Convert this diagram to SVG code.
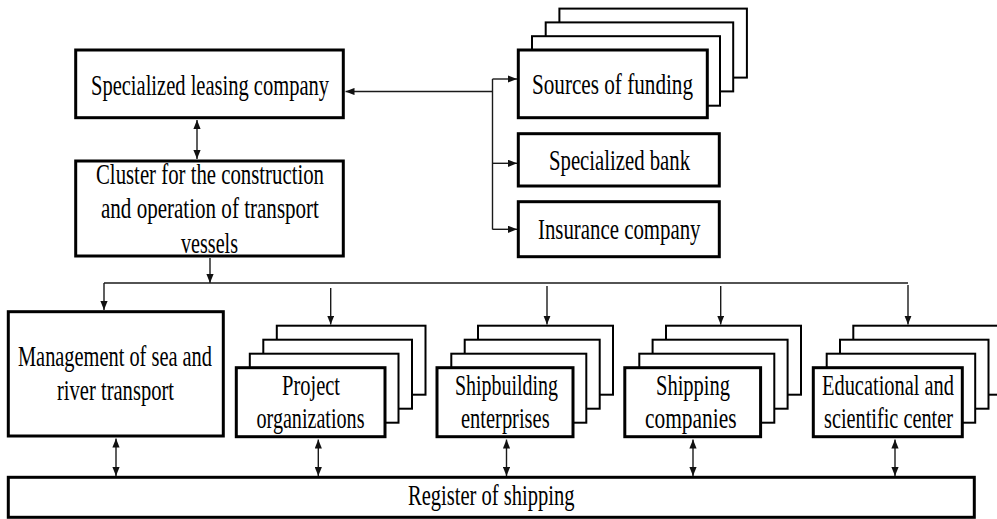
<svg xmlns="http://www.w3.org/2000/svg" width="997" height="519" viewBox="0 0 997 519">
<defs>
<style>
.box{fill:#fff;stroke:#000;stroke-width:3}
.layer{fill:#fff;stroke:#000;stroke-width:2}
.t{font-family:"Liberation Serif","Times New Roman",serif;font-size:29px;fill:#000}
.c{fill:none;stroke:#1a1a1a;stroke-width:1.4}
</style>
<marker id="ah" viewBox="0 0 10 8" refX="10" refY="4" markerWidth="9" markerHeight="7.5" markerUnits="userSpaceOnUse" orient="auto-start-reverse">
<path d="M0,0 L10,4 L0,8 z" fill="#111"/>
</marker>
</defs>
<rect width="997" height="519" fill="#fff"/>

<g id="connectors">
<line class="c" x1="197" y1="120" x2="197" y2="159" marker-start="url(#ah)" marker-end="url(#ah)"/>
<line class="c" x1="210" y1="258" x2="210" y2="283" marker-end="url(#ah)"/>
<line class="c" x1="104" y1="283" x2="908" y2="283"/>
<line class="c" x1="104" y1="283" x2="104" y2="310" marker-end="url(#ah)"/>
<line class="c" x1="330.7" y1="288" x2="330.7" y2="324.5" marker-end="url(#ah)"/>
<line class="c" x1="547" y1="286" x2="547" y2="324.5" marker-end="url(#ah)"/>
<line class="c" x1="720.7" y1="286" x2="720.7" y2="324.5" marker-end="url(#ah)"/>
<line class="c" x1="908" y1="285" x2="908" y2="324.5" marker-end="url(#ah)"/>
<line class="c" x1="492.5" y1="91.5" x2="345.5" y2="91.5" marker-end="url(#ah)"/>
<line class="c" x1="492.5" y1="79" x2="492.5" y2="229.5"/>
<line class="c" x1="492.5" y1="79" x2="517" y2="79" marker-end="url(#ah)"/>
<line class="c" x1="492.5" y1="163.3" x2="517" y2="163.3" marker-end="url(#ah)"/>
<line class="c" x1="492.5" y1="229.3" x2="517" y2="229.3" marker-end="url(#ah)"/>
<line class="c" x1="116" y1="438.5" x2="116" y2="476" marker-start="url(#ah)" marker-end="url(#ah)"/>
<line class="c" x1="318.3" y1="439.5" x2="318.3" y2="476" marker-start="url(#ah)" marker-end="url(#ah)"/>
<line class="c" x1="506.5" y1="439.5" x2="506.5" y2="476" marker-start="url(#ah)" marker-end="url(#ah)"/>
<line class="c" x1="693" y1="439.5" x2="693" y2="476" marker-start="url(#ah)" marker-end="url(#ah)"/>
<line class="c" x1="895" y1="439.5" x2="895" y2="476" marker-start="url(#ah)" marker-end="url(#ah)"/>
</g>

<g id="leasing">
<rect class="box" x="75.7" y="50" width="267.6" height="67.7"/>
<text class="t" transform="translate(91,94.5) scale(0.71,1)" textLength="335.2" lengthAdjust="spacingAndGlyphs">Specialized leasing company</text>
</g>

<g id="cluster">
<rect class="box" x="75.7" y="161" width="267.6" height="95"/>
<text class="t" transform="translate(96,183.5) scale(0.71,1)" textLength="321.1" lengthAdjust="spacingAndGlyphs">Cluster for the construction</text>
<text class="t" transform="translate(101,218.3) scale(0.71,1)" textLength="307" lengthAdjust="spacingAndGlyphs">and operation of transport</text>
<text class="t" transform="translate(181,252.5) scale(0.71,1)" textLength="80.3" lengthAdjust="spacingAndGlyphs">vessels</text>
</g>

<g id="sources">
<rect class="layer" x="559.4" y="8.6" width="187.5" height="69"/>
<rect class="layer" x="545.7" y="22.4" width="187.5" height="69"/>
<rect class="layer" x="532" y="36.2" width="188" height="69.5"/>
<rect class="box" x="518.3" y="50" width="189" height="67.7"/>
<text class="t" transform="translate(532,94) scale(0.71,1)" textLength="226.8" lengthAdjust="spacingAndGlyphs">Sources of funding</text>
</g>

<g id="bank">
<rect class="box" x="518.3" y="133.7" width="201" height="52.3"/>
<text class="t" transform="translate(549,170) scale(0.71,1)" textLength="198.6" lengthAdjust="spacingAndGlyphs">Specialized bank</text>
</g>

<g id="insurance">
<rect class="box" x="518.3" y="201.7" width="201" height="55"/>
<text class="t" transform="translate(538,238.5) scale(0.71,1)" textLength="228.9" lengthAdjust="spacingAndGlyphs">Insurance company</text>
</g>

<g id="management">
<rect class="box" x="8.3" y="311.7" width="215" height="124.3"/>
<text class="t" transform="translate(18,366) scale(0.71,1)" textLength="273.2" lengthAdjust="spacingAndGlyphs">Management of sea and</text>
<text class="t" transform="translate(57,400) scale(0.71,1)" textLength="164.8" lengthAdjust="spacingAndGlyphs">river transport</text>
</g>

<g id="project">
<rect class="layer" x="276.8" y="325.7" width="148.7" height="69"/>
<rect class="layer" x="263.3" y="339.7" width="148.7" height="69"/>
<rect class="layer" x="249.8" y="353.7" width="148.7" height="69"/>
<rect class="box" x="236.3" y="367.7" width="148.7" height="69"/>
<text class="t" transform="translate(282,394.8) scale(0.71,1)" textLength="81.7" lengthAdjust="spacingAndGlyphs">Project</text>
<text class="t" transform="translate(256.5,428.3) scale(0.71,1)" textLength="152.1" lengthAdjust="spacingAndGlyphs">organizations</text>
</g>

<g id="shipbuilding">
<rect class="layer" x="478" y="325.7" width="135" height="69"/>
<rect class="layer" x="464.7" y="339.7" width="135" height="69"/>
<rect class="layer" x="451.3" y="353.7" width="135" height="69"/>
<rect class="box" x="437" y="367.7" width="136" height="69"/>
<text class="t" transform="translate(455,395) scale(0.71,1)" textLength="145.1" lengthAdjust="spacingAndGlyphs">Shipbuilding</text>
<text class="t" transform="translate(461,428.3) scale(0.71,1)" textLength="124.8" lengthAdjust="spacingAndGlyphs">enterprises</text>
</g>

<g id="shipping">
<rect class="layer" x="666" y="325.7" width="135" height="69"/>
<rect class="layer" x="652.6" y="339.7" width="135" height="69"/>
<rect class="layer" x="639.3" y="353.7" width="135" height="69"/>
<rect class="box" x="624.8" y="367.7" width="135.8" height="69"/>
<text class="t" transform="translate(656,395) scale(0.71,1)" textLength="104.2" lengthAdjust="spacingAndGlyphs">Shipping</text>
<text class="t" transform="translate(645,428.3) scale(0.71,1)" textLength="128.9" lengthAdjust="spacingAndGlyphs">companies</text>
</g>

<g id="educational">
<rect class="layer" x="853.3" y="325.7" width="149" height="69"/>
<rect class="layer" x="840" y="339.7" width="148.5" height="69"/>
<rect class="layer" x="826.7" y="353.7" width="148.5" height="69"/>
<rect class="box" x="813.3" y="367.7" width="149" height="69"/>
<text class="t" transform="translate(822,395) scale(0.71,1)" textLength="185.9" lengthAdjust="spacingAndGlyphs">Educational and</text>
<text class="t" transform="translate(824,428) scale(0.71,1)" textLength="181.7" lengthAdjust="spacingAndGlyphs">scientific center</text>
</g>

<g id="register">
<rect class="box" x="8.3" y="477.3" width="966" height="40"/>
<text class="t" transform="translate(408,505) scale(0.71,1)" textLength="234.6" lengthAdjust="spacingAndGlyphs">Register of shipping</text>
</g>
</svg>
